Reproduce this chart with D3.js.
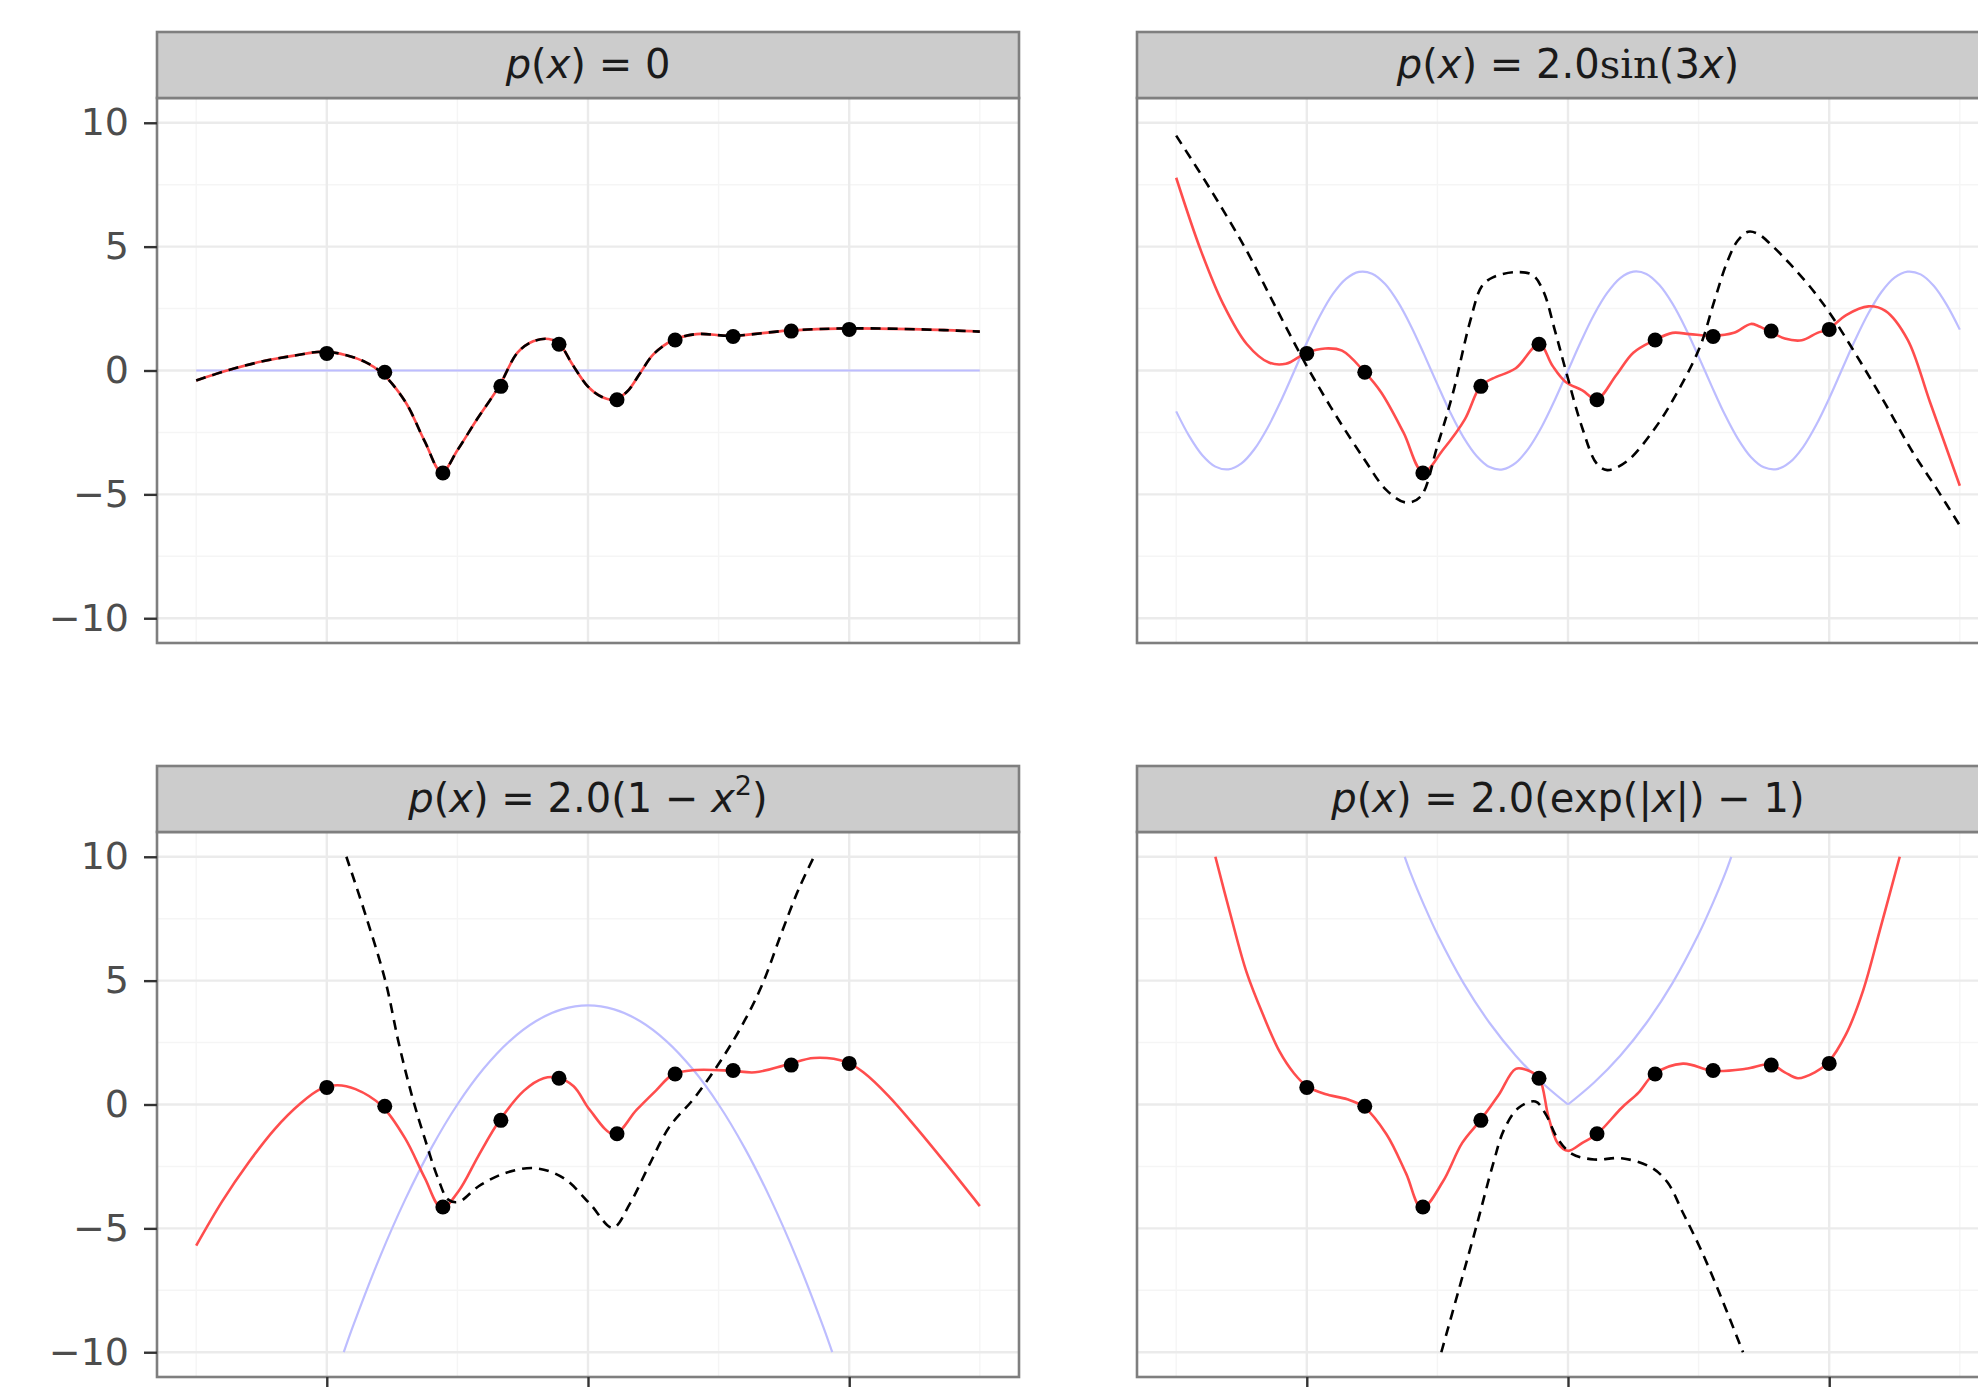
<!DOCTYPE html>
<html>
<head>
<meta charset="utf-8">
<title>Gaussian process with prior mean</title>
<style>
  body { margin: 0; background: #fff; }
  svg { display: block; }
  .grid-major { stroke: #ebebeb; stroke-width: 2.4; }
  .grid-minor { stroke: #f5f5f5; stroke-width: 1.4; }
  .border { fill: none; stroke: #7f7f7f; stroke-width: 2.6; }
  .strip { fill: #cccccc; stroke: #7f7f7f; stroke-width: 2.6; }
  .strip-text { font-family: "DejaVu Sans", sans-serif; font-size: 40px; fill: #1a1a1a; }
  .axis text { font-family: "DejaVu Sans", sans-serif; font-size: 38px; fill: #4d4d4d; }
  .axis line { stroke: #333; stroke-width: 2.4; }
  .prior { fill: none; stroke: #bdbdff; stroke-width: 2.2; }
  .fit { fill: none; stroke: #ff4d4d; stroke-width: 2.6; }
  .mean { fill: none; stroke: #000; stroke-width: 2.6; stroke-dasharray: 10,7; }
</style>
</head>
<body>
<svg width="1978" height="1387"></svg>
<script src="https://cdn.jsdelivr.net/npm/d3@7"></script>
<script>
// observations (same in every panel)
var obsX = [-2, -1.556, -1.111, -0.667, -0.222, 0.222, 0.667, 1.111, 1.556, 2];
var obsY = [0.69, -0.07, -4.14, -0.64, 1.06, -1.18, 1.23, 1.37, 1.59, 1.66];

// strip titles: [text, style]
var titles = [
  [["p","i"],["(",""],["x","i"],[") = 0",""]],
  [["p","i"],["(",""],["x","i"],[") = 2.0",""],["sin","serif"],["(3",""],["x","i"],[")",""]],
  [["p","i"],["(",""],["x","i"],[") = 2.0(1 \u2212 ",""],["x","i"],["2","sup"],[")",""]],
  [["p","i"],["(",""],["x","i"],[") = 2.0(exp(|",""],["x","i"],["|) \u2212 1)",""]]
];

// prior curves (blue)
var prior0 = [[-3,0],[3,0]];
var prior1 = [[-3.0,-1.65],[-2.9,-2.65],[-2.8,-3.42],[-2.7,-3.88],[-2.6,-3.99],[-2.5,-3.75],[-2.4,-3.17],[-2.3,-2.31],
  [-2.2,-1.25],[-2.1,-0.07],[-2.0,1.12],[-1.9,2.20],[-1.8,3.09],[-1.7,3.70],[-1.6,3.98],[-1.5,3.91],[-1.4,3.49],
  [-1.3,2.75],[-1.2,1.77],[-1.1,0.63],[-1.0,-0.56],[-0.9,-1.71],[-0.8,-2.70],[-0.7,-3.45],[-0.6,-3.90],[-0.5,-3.99],
  [-0.4,-3.73],[-0.3,-3.13],[-0.2,-2.26],[-0.1,-1.18],[0,0],[0.1,1.18],[0.2,2.26],[0.3,3.13],[0.4,3.73],[0.5,3.99],
  [0.6,3.90],[0.7,3.45],[0.8,2.70],[0.9,1.71],[1.0,0.56],[1.1,-0.63],[1.2,-1.77],[1.3,-2.75],[1.4,-3.49],[1.5,-3.91],
  [1.6,-3.98],[1.7,-3.70],[1.8,-3.09],[1.9,-2.20],[2.0,-1.12],[2.1,0.07],[2.2,1.25],[2.3,2.31],[2.4,3.17],[2.5,3.75],
  [2.6,3.99],[2.7,3.88],[2.8,3.42],[2.9,2.65],[3.0,1.65]];
var prior2 = [[-1.87,-10],[-1.8,-8.96],[-1.6,-6.24],[-1.4,-3.84],[-1.2,-1.76],[-1.0,0],[-0.8,1.44],[-0.6,2.56],
  [-0.4,3.36],[-0.2,3.84],[0,4],[0.2,3.84],[0.4,3.36],[0.6,2.56],[0.8,1.44],[1.0,0],[1.2,-1.76],[1.4,-3.84],
  [1.6,-6.24],[1.8,-8.96],[1.87,-10]];
var prior3 = [[-1.25,10],[-1.2,9.28],[-1.1,8.02],[-1.0,6.87],[-0.8,4.90],[-0.6,3.29],[-0.4,1.97],[-0.2,0.89],[0,0],
  [0.2,0.89],[0.4,1.97],[0.6,3.29],[0.8,4.90],[1.0,6.87],[1.1,8.02],[1.2,9.28],[1.25,10]];

// fitted curves (red)
var fit0 = [[-3,-0.40],[-2.75,0.02],[-2.5,0.36],[-2.25,0.60],[-2.03,0.76],[-1.85,0.62],[-1.70,0.33],[-1.58,-0.09],
  [-1.40,-1.25],[-1.25,-2.86],[-1.12,-4.11],[-1.0,-3.22],[-0.85,-1.97],[-0.68,-0.63],[-0.54,0.72],[-0.42,1.18],
  [-0.30,1.27],[-0.22,1.08],[-0.12,0.25],[0.0,-0.65],[0.1,-1.05],[0.2,-1.18],[0.3,-0.85],[0.4,-0.10],[0.5,0.65],
  [0.65,1.22],[0.83,1.47],[1.10,1.40],[1.53,1.61],[1.99,1.70],[2.55,1.66],[3.0,1.57]];
var fit1 = [[-3,7.78],[-2.81,4.83],[-2.64,2.68],[-2.46,1.07],[-2.29,0.32],[-2.16,0.27],[-2.0,0.72],[-1.86,0.89],
  [-1.73,0.80],[-1.56,-0.05],[-1.43,-0.89],[-1.26,-2.5],[-1.11,-4.11],[-0.96,-3.22],[-0.79,-1.97],[-0.67,-0.63],
  [-0.575,-0.32],[-0.40,0.09],[-0.22,1.07],[-0.12,0.2],[-0.02,-0.45],[0.11,-0.80],[0.22,-1.16],[0.37,-0.18],
  [0.50,0.72],[0.66,1.22],[0.80,1.52],[0.93,1.47],[1.11,1.40],[1.27,1.52],[1.40,1.88],[1.46,1.79],[1.55,1.57],
  [1.66,1.29],[1.79,1.22],[1.91,1.52],[1.99,1.65],[2.13,2.24],[2.30,2.59],[2.43,2.41],[2.60,1.25],[2.77,-1.25],[3.0,-4.65]];
var fit2 = [[-3,-5.7],[-2.8,-3.9],[-2.6,-2.35],[-2.4,-1.0],[-2.2,0.05],[-2.05,0.62],[-1.92,0.78],[-1.78,0.62],
  [-1.58,-0.05],[-1.40,-1.37],[-1.25,-2.96],[-1.12,-4.19],[-0.99,-3.49],[-0.84,-2.08],[-0.68,-0.67],[-0.49,0.56],
  [-0.34,1.06],[-0.24,1.09],[-0.11,0.74],[0.015,-0.23],[0.20,-1.20],[0.37,-0.23],[0.52,0.56],[0.65,1.21],[0.82,1.39],
  [1.10,1.36],[1.28,1.30],[1.53,1.62],[1.73,1.88],[1.98,1.71],[2.12,1.25],[2.3,0.35],[2.5,-0.85],[2.75,-2.45],[3.0,-4.10]];
var fit3 = [[-2.70,10.0],[-2.59,7.78],[-2.46,5.32],[-2.33,3.56],[-2.21,2.15],[-2.10,1.27],[-2.0,0.74],[-1.86,0.42],
  [-1.69,0.21],[-1.56,-0.11],[-1.39,-1.20],[-1.24,-2.78],[-1.12,-4.19],[-0.96,-3.13],[-0.81,-1.55],[-0.67,-0.63],
  [-0.53,0.39],[-0.40,1.44],[-0.30,1.36],[-0.22,1.06],[-0.15,-0.49],[-0.08,-1.55],[0.0,-1.87],[0.11,-1.55],
  [0.22,-1.20],[0.41,-0.14],[0.54,0.48],[0.66,1.23],[0.88,1.65],[1.11,1.36],[1.36,1.44],[1.55,1.62],[1.66,1.30],
  [1.76,1.06],[1.89,1.30],[1.99,1.69],[2.13,2.85],[2.26,4.61],[2.39,7.08],[2.54,10.0]];

// posterior mean curves (black dashed)
var mean0 = fit0;
var mean1 = [[-3,9.48],[-2.72,7.16],[-2.46,4.83],[-2.25,2.68],[-2.0,0.18],[-1.78,-1.79],[-1.56,-3.58],[-1.39,-4.83],
  [-1.24,-5.33],[-1.13,-5.1],[-1.0,-3.04],[-0.88,-0.89],[-0.75,1.97],[-0.66,3.40],[-0.575,3.76],[-0.40,3.97],
  [-0.27,3.85],[-0.19,3.22],[-0.10,1.61],[-0.017,0.0],[0.11,-2.33],[0.22,-3.76],[0.30,-4.02],[0.45,-3.67],
  [0.67,-2.3],[0.84,-0.85],[1.01,0.95],[1.12,2.8],[1.22,4.4],[1.30,5.25],[1.38,5.6],[1.46,5.5],[1.56,5.05],
  [1.70,4.3],[1.85,3.4],[2.0,2.35],[2.21,0.6],[2.43,-1.35],[2.64,-3.3],[2.82,-4.75],[3.0,-6.26]];
var mean2 = [[-1.85,10],[-1.70,7.6],[-1.55,4.96],[-1.45,2.5],[-1.35,0.39],[-1.25,-1.37],[-1.15,-2.96],[-1.07,-3.84],
  [-0.99,-3.93],[-0.84,-3.31],[-0.64,-2.78],[-0.41,-2.57],[-0.19,-2.96],[0.015,-4.01],[0.19,-4.98],[0.32,-4.01],
  [0.47,-2.43],[0.62,-0.93],[0.82,0.30],[1.02,1.80],[1.18,3.20],[1.33,4.79],[1.48,6.90],[1.61,8.66],[1.73,10]];
var mean3 = [[-0.97,-10],[-0.83,-7.36],[-0.70,-4.89],[-0.575,-2.43],[-0.49,-1.02],[-0.38,-0.14],[-0.25,0.12],
  [-0.17,-0.40],[-0.08,-1.37],[0.03,-1.99],[0.20,-2.22],[0.41,-2.17],[0.63,-2.52],[0.76,-3.13],[0.88,-4.37],
  [1.01,-5.77],[1.14,-7.36],[1.34,-10]];

var yTicks = [-10, -5, 0, 5, 10];
var yMinor = [-7.5, -2.5, 2.5, 7.5];
var xTicks = [-2, 0, 2];
var xMinor = [-3, -1, 1, 3];

var priors = [prior0, prior1, prior2, prior3];
var fits = [fit0, fit1, fit2, fit3];
var means = [mean0, mean1, mean2, mean3];

// layout
var svg = d3.select("svg");
var pw = 862, ph = 545, stripH = 66;
var origins = [[157, 98], [1137, 98], [157, 832], [1137, 832]];

var x = d3.scaleLinear().domain([-3.3, 3.3]).range([0, pw]);
var y = d3.scaleLinear().domain([-11, 11]).range([ph, 0]);

var line = d3.line()
    .x(function(d) { return x(d[0]); })
    .y(function(d) { return y(d[1]); })
    .curve(d3.curveCatmullRom.alpha(0.5));

var obs = obsX.map(function(v, i) { return [v, obsY[i]]; });

origins.forEach(function(o, i) {
  var g = svg.append("g").attr("transform", "translate(" + o[0] + "," + o[1] + ")");

  g.append("clipPath").attr("id", "clip" + i)
    .append("rect").attr("width", pw).attr("height", ph);

  g.append("rect").attr("width", pw).attr("height", ph).attr("fill", "#fff");

  // grid
  g.selectAll(".gmx").data(xMinor).enter().append("line").attr("class", "grid-minor")
    .attr("x1", x).attr("x2", x).attr("y1", 0).attr("y2", ph);
  g.selectAll(".gmy").data(yMinor).enter().append("line").attr("class", "grid-minor")
    .attr("y1", y).attr("y2", y).attr("x1", 0).attr("x2", pw);
  g.selectAll(".gx").data(xTicks).enter().append("line").attr("class", "grid-major")
    .attr("x1", x).attr("x2", x).attr("y1", 0).attr("y2", ph);
  g.selectAll(".gy").data(yTicks).enter().append("line").attr("class", "grid-major")
    .attr("y1", y).attr("y2", y).attr("x1", 0).attr("x2", pw);

  var plot = g.append("g").attr("clip-path", "url(#clip" + i + ")");

  // prior: split at the kink for the |x| panel
  var pr = priors[i];
  if (i === 3) {
    plot.append("path").attr("class", "prior").attr("d", line(pr.filter(function(d) { return d[0] <= 0; })));
    plot.append("path").attr("class", "prior").attr("d", line(pr.filter(function(d) { return d[0] >= 0; })));
  } else {
    plot.append("path").attr("class", "prior").attr("d", line(pr));
  }
  plot.append("path").attr("class", "fit").attr("d", line(fits[i]));
  plot.append("path").attr("class", "mean").attr("d", line(means[i]));

  plot.selectAll("circle").data(obs).enter().append("circle")
    .attr("cx", function(d) { return x(d[0]); })
    .attr("cy", function(d) { return y(d[1]); })
    .attr("r", 7.5).attr("fill", "#000");

  g.append("rect").attr("class", "border").attr("width", pw).attr("height", ph);

  // strip
  g.append("rect").attr("class", "strip").attr("y", -stripH).attr("width", pw).attr("height", stripH);
  var t = g.append("text").attr("class", "strip-text")
    .attr("x", pw / 2).attr("y", -20).attr("text-anchor", "middle");
  var raised = false;
  titles[i].forEach(function(seg) {
    var s = t.append("tspan").text(seg[0]);
    if (seg[1] === "i") s.attr("font-style", "italic");
    if (seg[1] === "serif") s.attr("font-family", "DejaVu Serif");
    if (seg[1] === "sup") { s.attr("font-size", "27px").attr("dy", -17); raised = true; }
    else if (raised) { s.attr("dy", 17); raised = false; }
  });

  // axes
  if (i % 2 === 0) {
    g.append("g").attr("class", "axis")
      .call(d3.axisLeft(y).tickValues(yTicks).tickSize(13).tickPadding(15))
      .call(function(a) { a.select(".domain").remove(); });
  }
  if (i >= 2) {
    g.append("g").attr("class", "axis").attr("transform", "translate(0," + ph + ")")
      .call(d3.axisBottom(x).tickValues(xTicks).tickSize(13).tickFormat(""))
      .call(function(a) { a.select(".domain").remove(); });
  }
});
</script>
</body>
</html>
